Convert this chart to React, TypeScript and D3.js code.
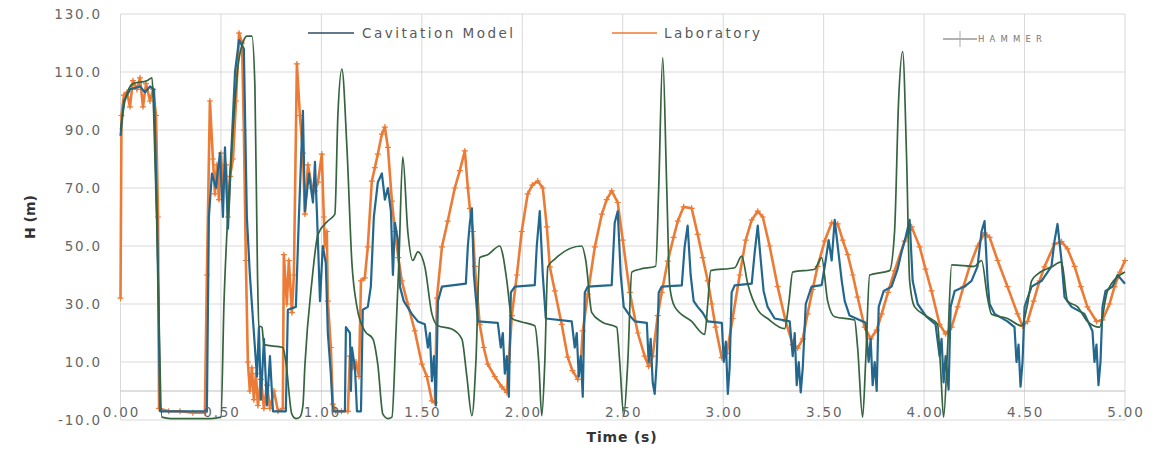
import React from 'react';
import * as d3 from 'd3';

// axis ticks
const xTicks = [0, 0.5, 1, 1.5, 2, 2.5, 3, 3.5, 4, 4.5, 5];
const yTicks = [-10, 10, 30, 50, 70, 90, 110, 130];

// [time (s), H (m)]
const cavitationModel: [number, number][] = [
  [0, 88], [0.017, 100], [0.047, 104], [0.097, 105], [0.122, 103], [0.147, 105], [0.167, 104], [0.182, 60], [0.197, -7],
  [0.43, -7], [0.44, 60], [0.455, 75], [0.475, 70], [0.495, 82], [0.51, 60], [0.52, 84], [0.535, 56], [0.55, 80],
  [0.57, 110], [0.59, 121], [0.614, 118], [0.629, 60], [0.644, 40], [0.664, 20], [0.679, 5], [0.689, 22], [0.699, -3],
  [0.714, 18], [0.729, -5], [0.744, 12], [0.759, -7], [0.823, -7], [0.833, 28], [0.873, 29], [0.888, 60], [0.908, 96.6],
  [0.918, 62], [0.938, 75], [0.958, 65], [0.968, 79], [0.978, 61], [0.993, 31], [1.007, 50], [1.022, 44], [1.032, 20],
  [1.047, 6], [1.057, -7], [1.117, -7], [1.122, 22], [1.142, 20], [1.147, 0], [1.152, 15], [1.167, 8], [1.177, -7],
  [1.197, -7], [1.206, 28], [1.231, 29], [1.246, 36], [1.261, 60], [1.281, 72], [1.301, 75], [1.316, 66], [1.331, 70],
  [1.346, 62], [1.356, 40], [1.366, 58], [1.381, 52], [1.391, 36], [1.41, 31], [1.45, 26.6], [1.48, 24], [1.515, 23],
  [1.53, 15], [1.54, 20], [1.55, 3.4], [1.56, 12], [1.57, -5], [1.58, 31], [1.6, 36], [1.719, 37], [1.729, 50],
  [1.739, 58], [1.749, 63], [1.759, 40], [1.769, 32], [1.779, 24], [1.878, 23.5], [1.893, 15], [1.903, 20], [1.913, 6],
  [1.923, 12], [1.933, -2], [1.943, 34], [1.963, 36], [2.062, 36.5], [2.072, 50], [2.087, 62], [2.102, 40], [2.117, 25],
  [2.246, 24], [2.261, 15], [2.271, 20], [2.281, 5], [2.291, 12], [2.301, -2], [2.311, 34], [2.326, 36], [2.445, 36.5],
  [2.46, 58], [2.475, 62], [2.49, 40], [2.505, 29], [2.535, 26], [2.56, 24], [2.62, 23.5], [2.629, 10], [2.639, 18],
  [2.649, 3], [2.659, -1], [2.669, 10], [2.679, 34], [2.694, 36], [2.794, 36.4], [2.808, 49.7], [2.823, 57], [2.838, 40],
  [2.853, 31], [2.873, 29], [2.898, 27], [2.923, 24], [2.993, 23.5], [3.003, 10], [3.013, 17], [3.023, -1], [3.032, 8],
  [3.042, 34], [3.057, 36.4], [3.142, 37], [3.157, 48], [3.172, 57], [3.187, 45], [3.201, 34.5], [3.221, 29],
  [3.256, 25], [3.331, 24], [3.346, 12], [3.356, 20], [3.366, 2], [3.376, 10], [3.386, -0.5], [3.396, 8], [3.411, 30],
  [3.44, 36], [3.49, 36.5], [3.51, 45], [3.525, 52], [3.54, 45], [3.555, 59], [3.57, 50], [3.59, 38], [3.605, 31],
  [3.629, 26], [3.709, 23.5], [3.724, 10], [3.734, 18], [3.744, 2], [3.754, 10], [3.764, 0], [3.774, 29], [3.799, 34.5],
  [3.838, 36], [3.868, 42], [3.888, 48], [3.908, 53], [3.928, 59], [3.943, 38], [3.968, 30], [4.012, 25.6], [4.057, 23],
  [4.077, 12], [4.087, 18], [4.097, 3], [4.107, 12], [4.122, 0.5], [4.132, 29], [4.152, 34.5], [4.201, 36], [4.236, 38],
  [4.266, 43], [4.286, 55], [4.301, 58.6], [4.316, 38], [4.326, 30], [4.351, 26.6], [4.415, 24], [4.45, 22], [4.46, 10],
  [4.47, 16], [4.48, 1.5], [4.49, 10], [4.5, 29], [4.535, 36], [4.585, 38], [4.634, 43], [4.649, 51.7], [4.664, 57.6],
  [4.684, 45], [4.699, 32.4], [4.734, 29], [4.798, 26.6], [4.838, 20.7], [4.848, 10], [4.858, 16], [4.868, 2],
  [4.878, 10], [4.888, 29], [4.903, 34.5], [4.938, 36], [4.963, 40], [5.0, 37],
];

const laboratory: [number, number][] = [
  [0, 32], [0.005, 95], [0.017, 102], [0.032, 103], [0.047, 98], [0.062, 107], [0.082, 104], [0.097, 108], [0.112, 98],
  [0.127, 106], [0.147, 100], [0.162, 104], [0.177, 95], [0.187, 60], [0.192, -6], [0.24, -7], [0.296, -7], [0.36, -7.5],
  [0.42, -7.5], [0.43, 40], [0.445, 100], [0.46, 80], [0.47, 68], [0.48, 78], [0.49, 66], [0.5, 82], [0.51, 70],
  [0.525, 78], [0.535, 60], [0.545, 74], [0.56, 80], [0.575, 100], [0.59, 123.4], [0.605, 120], [0.614, 90], [0.624, 45],
  [0.634, 10], [0.644, 0], [0.654, 8], [0.664, -3], [0.674, 6], [0.684, -5], [0.699, 4], [0.714, -6], [0.729, 2],
  [0.744, -6], [0.764, 0], [0.784, -7], [0.808, -6], [0.813, 47], [0.828, 30], [0.838, 45], [0.853, 27], [0.863, 40],
  [0.878, 112.8], [0.893, 95], [0.908, 82], [0.918, 61], [0.933, 78], [0.953, 70], [0.968, 69], [0.983, 72], [1.002, 81.7],
  [1.012, 60], [1.017, 50], [1.027, 55], [1.032, 31], [1.047, 15], [1.057, -4.5], [1.072, -7], [1.1, -7], [1.132, -7],
  [1.142, 12], [1.157, 8], [1.172, 10], [1.187, 5], [1.197, 38], [1.216, 39], [1.231, 49.7], [1.251, 72.4], [1.266, 77],
  [1.281, 81.7], [1.301, 88.6], [1.316, 91], [1.331, 84], [1.351, 65.5], [1.366, 55], [1.383, 46], [1.4, 38], [1.43, 30],
  [1.465, 20.7], [1.5, 9.3], [1.525, 5], [1.55, -3.4], [1.565, -4], [1.575, 32], [1.6, 49.7], [1.629, 58.6], [1.664, 70],
  [1.689, 76], [1.714, 82.8], [1.729, 70], [1.739, 63], [1.754, 55], [1.764, 43], [1.788, 23], [1.808, 15], [1.828, 9.3],
  [1.863, 5], [1.898, 1.4], [1.923, -0.5], [1.933, 10], [1.948, 26], [1.973, 40], [1.997, 55], [2.027, 68], [2.05, 71],
  [2.077, 72.4], [2.102, 70], [2.122, 56.6], [2.137, 42.8], [2.162, 34.5], [2.196, 23], [2.226, 11.7], [2.25, 7],
  [2.276, 4], [2.291, 10], [2.301, 20.7], [2.326, 33.4], [2.361, 49.7], [2.396, 61], [2.42, 66], [2.445, 69], [2.475, 65],
  [2.5, 52], [2.535, 34], [2.575, 20], [2.609, 12], [2.629, 8.5], [2.649, 12], [2.674, 26], [2.694, 34], [2.724, 44.8],
  [2.753, 53], [2.774, 58.6], [2.803, 63.5], [2.843, 63], [2.873, 54], [2.898, 46], [2.923, 38], [2.943, 30], [2.962, 22],
  [2.993, 11.5], [3.018, 13], [3.047, 25], [3.082, 40], [3.112, 52], [3.142, 59], [3.172, 62], [3.197, 60], [3.231, 50],
  [3.271, 36], [3.311, 24], [3.346, 16], [3.371, 14.8], [3.396, 18], [3.42, 26.6], [3.445, 35], [3.47, 43], [3.505, 51.7],
  [3.54, 58], [3.57, 57.6], [3.595, 52], [3.62, 47], [3.645, 40], [3.669, 32.4], [3.704, 22], [3.734, 18], [3.764, 21],
  [3.789, 26.6], [3.82, 34], [3.853, 41.4], [3.903, 51.7], [3.938, 56.6], [3.978, 49.7], [4.007, 42], [4.037, 34.5],
  [4.077, 23], [4.107, 19.7], [4.137, 22], [4.167, 29], [4.196, 36], [4.226, 42.8], [4.266, 50], [4.301, 54.5],
  [4.326, 53], [4.366, 45], [4.415, 36], [4.465, 26.6], [4.49, 22.4], [4.515, 24], [4.545, 31], [4.575, 38],
  [4.599, 42.8], [4.649, 50.7], [4.684, 51.5], [4.714, 49], [4.749, 43], [4.78, 36], [4.813, 29], [4.858, 24],
  [4.888, 24.5], [4.923, 30], [4.948, 36], [4.975, 41], [5.0, 45],
];

const hammer: [number, number][] = [
  [0, 90], [0.022, 100], [0.062, 106], [0.132, 107], [0.157, 108], [0.165, 96], [0.187, 40], [0.206, -9], [0.25, -9.5],
  [0.45, -9.5], [0.5, -9], [0.515, 30], [0.535, 62], [0.56, 90], [0.585, 112], [0.614, 121], [0.629, 122.4],
  [0.654, 122.4], [0.669, 105], [0.682, 40], [0.689, 22.5], [0.704, 22], [0.714, 16], [0.808, 15], [0.823, 10],
  [0.853, -8], [0.873, -9.5], [0.893, -9], [0.908, -5], [0.918, 9], [0.953, 38], [0.983, 54], [1.032, 58.6], [1.067, 61],
  [1.082, 95], [1.102, 111], [1.127, 84], [1.152, 44], [1.177, 29], [1.216, 20.7], [1.256, 18], [1.281, 9], [1.306, -8],
  [1.331, -9.5], [1.351, -9], [1.371, 20], [1.386, 45], [1.405, 80.7], [1.43, 55], [1.455, 45], [1.48, 48], [1.515, 42.8],
  [1.55, 26.6], [1.58, 22.5], [1.649, 21.4], [1.699, 18], [1.724, 5], [1.749, -8.5], [1.769, 10], [1.788, 46],
  [1.828, 47], [1.888, 50], [1.903, 47], [1.923, 38], [1.948, 25], [1.997, 23.8], [2.062, 22.5], [2.082, 10],
  [2.097, -8.5], [2.112, 10], [2.127, 42.8], [2.162, 45.5], [2.296, 50], [2.316, 45], [2.346, 27], [2.396, 23.8],
  [2.47, 22], [2.485, 10], [2.505, -8.5], [2.525, 10], [2.545, 41], [2.585, 42], [2.664, 43], [2.679, 70], [2.699, 115],
  [2.719, 70], [2.734, 36], [2.759, 29], [2.843, 24], [2.908, 19.5], [2.923, 30], [2.938, 41.5], [3.057, 42.5],
  [3.092, 46.5], [3.122, 37], [3.172, 28], [3.221, 25], [3.306, 21.5], [3.326, 30], [3.346, 41], [3.455, 42], [3.49, 46],
  [3.52, 31], [3.555, 25.6], [3.654, 24.5], [3.669, 15], [3.694, -9], [3.709, 10], [3.729, 40], [3.828, 41.5],
  [3.853, 55], [3.873, 100], [3.893, 117], [3.913, 80], [3.928, 38], [3.953, 29], [4.017, 25.6], [4.067, 23], [4.082, 8],
  [4.097, -9], [4.117, 15], [4.137, 43.5], [4.251, 43], [4.286, 45], [4.316, 32], [4.336, 26.5], [4.415, 25],
  [4.485, 22.5], [4.515, 30], [4.535, 38], [4.565, 40.3], [4.634, 42.8], [4.684, 44.5], [4.714, 31], [4.764, 29],
  [4.813, 24], [4.873, 22], [4.913, 34.5], [5.0, 41],
];

const BLUE = '#23678f';
const ORANGE = '#ec7b35';
const GREEN = '#35643f';
const GRID = '#d9d9d9';
const LABEL = '#666666';

const App = () => {
  const x = d3.scaleLinear().domain([0, 5]).range([120.5, 1125]);
  const y = d3.scaleLinear().domain([-10, 130]).range([420, 14]);

  const straight = d3.line<[number, number]>().x(d => x(d[0])).y(d => y(d[1]));
  const smooth = d3.line<[number, number]>().x(d => x(d[0])).y(d => y(d[1])).curve(d3.curveMonotoneX);

  const crosses = laboratory
    .map(d => `M${x(d[0]) - 3},${y(d[1])}h6M${x(d[0])},${y(d[1]) - 3}v6`)
    .join('');

  const tickFont = { fontFamily: 'DejaVu Sans', fontSize: 13.5, letterSpacing: 1.8, fill: LABEL };

  return (
    <div style={{ position: 'absolute', left: 0, top: 0 }}>
      <svg width={1161} height={449} style={{ display: 'block', background: '#fff' }}>
        {/* grid */}
        {yTicks.map(t => (
          <line key={'gy' + t} x1={x(0)} x2={x(5)} y1={y(t)} y2={y(t)} stroke={GRID} strokeWidth={1} />
        ))}
        {xTicks.map(t => (
          <line key={'gx' + t} x1={x(t)} x2={x(t)} y1={y(130)} y2={y(-10)} stroke={GRID} strokeWidth={1} />
        ))}
        <line x1={x(0)} x2={x(5)} y1={y(0)} y2={y(0)} stroke="#bfbfbf" strokeWidth={1} />

        {/* series */}
        <path d={straight(laboratory) || ''} fill="none" stroke={ORANGE} strokeWidth={2.6} strokeLinejoin="round" />
        <path d={crosses} fill="none" stroke={ORANGE} strokeWidth={1.2} />
        <path d={straight(cavitationModel) || ''} fill="none" stroke={BLUE} strokeWidth={2.2} strokeLinejoin="round" />
        <path d={smooth(hammer) || ''} fill="none" stroke={GREEN} strokeWidth={1.7} />

        {/* y tick labels */}
        {yTicks.map(t => (
          <text key={'ly' + t} x={102} y={y(t)} dy="0.35em" textAnchor="end" {...tickFont}>
            {t.toFixed(1)}
          </text>
        ))}
        {/* x tick labels */}
        {xTicks.map(t => (
          <text key={'lx' + t} x={x(t) + 1} y={412} dy="0.35em" textAnchor="middle" {...tickFont}>
            {t.toFixed(2)}
          </text>
        ))}

        {/* axis titles */}
        <text x={622} y={437} dy="0.35em" textAnchor="middle" fontFamily="DejaVu Sans" fontWeight="bold"
          fontSize={14} letterSpacing={0.8} fill="#333">
          Time (s)
        </text>
        <text transform="translate(30,217) rotate(-90)" dy="0.35em" textAnchor="middle" fontFamily="DejaVu Sans"
          fontWeight="bold" fontSize={14} fill="#333">
          H (m)
        </text>

        {/* legend */}
        <line x1={308} x2={354} y1={33} y2={33} stroke="#2d4b63" strokeWidth={1.5} />
        <text x={362} y={33} dy="0.35em" fontFamily="DejaVu Sans" fontSize={13.5} fill="#595959"
          textLength={151} lengthAdjust="spacing">
          Cavitation Model
        </text>
        <line x1={612} x2={657} y1={33} y2={33} stroke={ORANGE} strokeWidth={1.5} />
        <text x={664} y={33} dy="0.35em" fontFamily="DejaVu Sans" fontSize={13.5} fill="#595959"
          textLength={96} lengthAdjust="spacing">
          Laboratory
        </text>
        <line x1={943} x2={977} y1={39} y2={39} stroke="#666" strokeWidth={1.2} />
        <line x1={960} x2={960} y1={31} y2={47} stroke="#aaa" strokeWidth={1} />
        <text x={978} y={39} dy="0.35em" fontFamily="DejaVu Sans" fontSize={8.5} fill="#777"
          textLength={64} lengthAdjust="spacing">
          HAMMER
        </text>
      </svg>
    </div>
  );
};

export default App;
